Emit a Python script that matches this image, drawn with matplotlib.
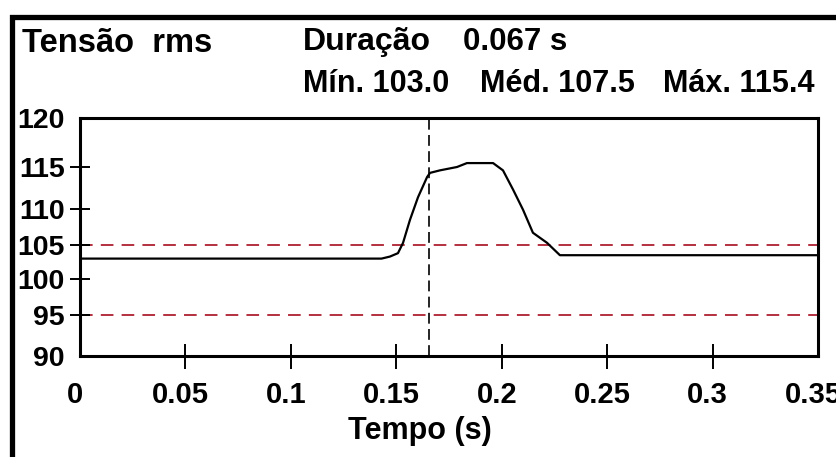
import matplotlib.pyplot as plt
import numpy as np
from matplotlib.patches import Rectangle
from matplotlib.transforms import ScaledTranslation

# tensão rms registada durante o evento
tempo = [0.0, 0.143, 0.147, 0.1508, 0.1532, 0.1565, 0.1603, 0.1646, 0.166,
         0.1707, 0.1788, 0.1835, 0.1959, 0.2006, 0.2054, 0.2101, 0.2148,
         0.2215, 0.2276, 0.35]
tensao = [103.0, 103.0, 103.3, 103.8, 105.3, 108.5, 111.4, 113.8, 114.3,
          114.6, 115.0, 115.4, 115.4, 114.6, 112.3, 109.9, 106.7,
          105.3, 103.5, 103.5]

lim_sup = 105
lim_inf = 95
cursor_t = 0.1655

duracao = 0.067
v_min, v_med, v_max = 103.0, 107.5, 115.4

x_ticks = [0, 0.05, 0.1, 0.15, 0.2, 0.25, 0.3, 0.35]
x_labels = ["0", "0.05", "0.1", "0.15", "0.2", "0.25", "0.3", "0.35"]
y_ticks = [90, 95, 100, 105, 110, 115, 120]
# a escala vertical do aparelho não é uniforme (altura de cada marca, em px)
y_pos = [0, 41, 77, 111, 147, 189, 238]

plt.rcParams['font.family'] = ['Liberation Sans', 'DejaVu Sans']
plt.rcParams['font.weight'] = 'bold'
plt.rcParams['axes.labelweight'] = 'bold'

W, H = 837, 457
fig = plt.figure(figsize=(W / 100, H / 100), dpi=100)
ax = fig.add_axes([80 / W, 1 - 356 / H, 738 / W, 238 / H])


def _fwd(v):
    return np.interp(v, y_ticks, y_pos)


def _inv(h):
    return np.interp(h, y_pos, y_ticks)


ax.set_yscale('function', functions=(_fwd, _inv))

# limites e cursor
for lim in (lim_sup, lim_inf):
    ax.axhline(lim, color='#b3303f', lw=1.4, dashes=(6.5, 4.2), zorder=1)
ax.axvline(cursor_t, color='black', lw=1.2, dashes=(6.5, 3.2), zorder=2)

ax.plot(tempo, tensao, color='black', lw=1.6, zorder=3)

ax.set_xlim(0, 0.35)
ax.set_ylim(90, 120)
ax.set_xticks(x_ticks)
ax.set_xticklabels(x_labels)
ax.set_yticks(y_ticks)
ax.set_yticklabels([str(v) for v in y_ticks])
ax.minorticks_off()

ax.tick_params(axis='x', direction='inout', length=18, width=1.4,
               labelsize=21, pad=9)
ax.tick_params(axis='y', direction='inout', length=14, width=1.4,
               labelsize=20.5, pad=4)
for t in (ax.xaxis.get_major_ticks()[0], ax.xaxis.get_major_ticks()[-1],
          ax.yaxis.get_major_ticks()[0], ax.yaxis.get_major_ticks()[-1]):
    t.tick1line.set_visible(False)

desloc = ScaledTranslation(-0.05, 0, fig.dpi_scale_trans)
for lab in ax.get_xticklabels():
    lab.set_transform(lab.get_transform() + desloc)

for s in ax.spines.values():
    s.set_linewidth(2.2)

ax.set_xlabel("Tempo (s)", fontsize=22, fontweight='bold')
ax.xaxis.set_label_coords((420 - 80) / 738, -(416 - 356) / 238)

# cabeçalho
fig.text(22 / W, 1 - 52 / H, "Tensão  rms", fontsize=23.5, va='baseline')
fig.text(303 / W, 1 - 50 / H, "Duração", fontsize=23, va='baseline')
fig.text(463 / W, 1 - 50 / H, f"{duracao:.3f} s", fontsize=22.5, va='baseline')
fig.text(303 / W, 1 - 92 / H, f"Mín. {v_min:.1f}", fontsize=22, va='baseline')
fig.text(480 / W, 1 - 92 / H, f"Méd. {v_med:.1f}", fontsize=22, va='baseline')
fig.text(663 / W, 1 - 92 / H, f"Máx. {v_max:.1f}", fontsize=22, va='baseline')

# moldura do painel
fig.patches.append(Rectangle((12 / W, -0.2), 1.2, 0.2 + 1 - 16.5 / H,
                             fill=False, lw=3.8, edgecolor='black',
                             transform=fig.transFigure))

fig.savefig("out.png", dpi=100, facecolor='white')
